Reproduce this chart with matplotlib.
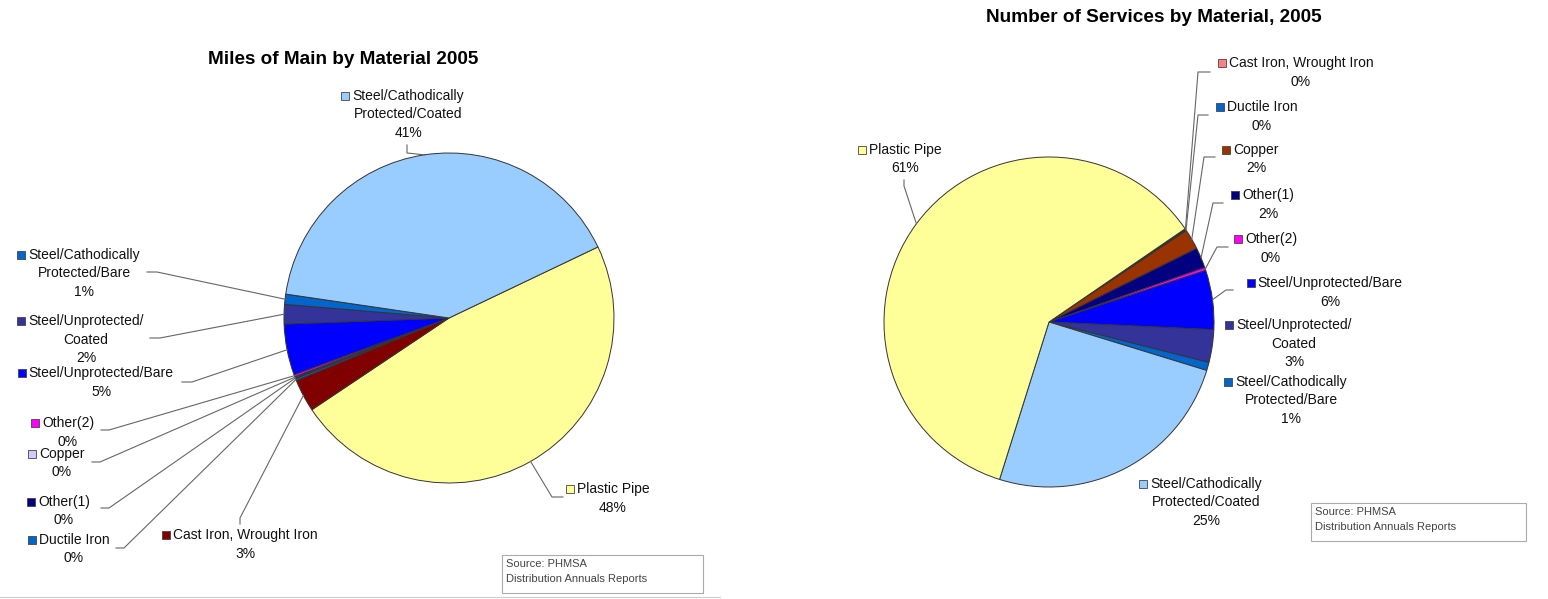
import matplotlib
matplotlib.use("Agg")
import matplotlib.pyplot as plt
from matplotlib.lines import Line2D
from matplotlib.patches import Rectangle
import numpy as np

plt.rcParams['font.family'] = ['Liberation Sans', 'DejaVu Sans']

W, H = 1548, 599

# --- data: Miles of Main by Material 2005 (percent) ---
main_names = ["Plastic Pipe", "Cast Iron, Wrought Iron", "Ductile Iron", "Other(1)",
              "Copper", "Other(2)", "Steel/Unprotected/Bare", "Steel/Unprotected/\nCoated",
              "Steel/Cathodically\nProtected/Bare", "Steel/Cathodically\nProtected/Coated"]
main_pct = [47.7, 3.2, 0.2, 0.1, 0.1, 0.2, 5.0, 1.9, 1.0, 40.6]
main_colors = ["#FFFF99", "#800000", "#0066CC", "#000080", "#CCCCFF", "#FF00FF",
               "#0000FF", "#333399", "#0066CC", "#99CCFF"]

# --- data: Number of Services by Material, 2005 (percent) ---
serv_names = ["Cast Iron, Wrought Iron", "Ductile Iron", "Copper", "Other(1)", "Other(2)",
              "Steel/Unprotected/Bare", "Steel/Unprotected/\nCoated",
              "Steel/Cathodically\nProtected/Bare", "Steel/Cathodically\nProtected/Coated",
              "Plastic Pipe"]
serv_pct = [0.1, 0.1, 2.0, 2.0, 0.3, 5.8, 3.2, 0.8, 25.1, 60.6]
serv_colors = ["#FF8080", "#0066CC", "#993300", "#000080", "#FF00FF",
               "#0000FF", "#333399", "#0066CC", "#99CCFF", "#FFFF99"]

# label layout in pixels: (center x, first line y, leader start, leader knee)
main_layout = [
    (613, 489, (563, 497), (552, 497)),
    (245, 535, (240, 524), (240, 518)),
    (74, 540, (116, 548), (124, 548)),
    (64, 502, (101, 508), (109, 508)),
    (62, 454, (92, 462), (100, 462)),
    (68, 423, (101, 430), (109, 430)),
    (101, 373, (182, 382), (192, 382)),
    (86, 321, (150, 338), (160, 338)),
    (84, 255, (147, 272), (157, 272)),
    (408, 96, (407, 145), (407, 153)),
]
serv_layout = [
    (1301, 63, (1210, 72), (1198, 72)),
    (1262, 107, (1208, 115), (1198, 115)),
    (1256, 150, (1215, 157), (1204, 157)),
    (1268, 195, (1223, 203), (1213, 203)),
    (1271, 239, (1228, 247), (1217, 247)),
    (1330, 283, (1233, 290), (1226, 290)),
    (1294, 325, None, None),
    (1291, 382, None, None),
    (1206, 484, None, None),
    (905, 150, (904, 180), (904, 186)),
]

LINE_H = 18.5


def fx(x):
    return x / W


def fy(y):
    return 1 - y / H


fig = plt.figure(figsize=(W / 100, H / 100), dpi=100)
fig.patch.set_facecolor("white")


def draw_pie(center, radius, pct, colors, names, layout, startangle, title, title_xy, title_size, box):
    cx, cy = center
    ax = fig.add_axes([fx(cx - radius), fy(cy + radius), 2 * radius / W, 2 * radius / H])
    wedges, _ = ax.pie(pct, colors=colors, startangle=startangle, counterclock=False,
                       wedgeprops=dict(edgecolor="#333333", linewidth=0.7))
    ax.set_xlim(-1, 1)
    ax.set_ylim(-1, 1)
    ax.set_aspect("auto")
    ax.axis("off")

    inv = fig.transFigure.inverted()
    for w, name, p, (lx, ly, start, knee) in zip(wedges, names, pct, layout):
        lines = name.split("\n") + [f"{round(p)}%"]
        texts = []
        for i, ln in enumerate(lines):
            t = fig.text(fx(lx), fy(ly + i * LINE_H), ln, ha="center", va="center",
                         fontsize=10, color="#111111")
            texts.append(t)
        # legend key square left of the first line
        bb = texts[0].get_window_extent(renderer=fig.canvas.get_renderer())
        left_px = bb.x0
        sq = 8
        fig.add_artist(Rectangle(((left_px - sq - 3) / W, fy(ly) - sq / 2 / H), sq / W, sq / H,
                                 transform=fig.transFigure, facecolor=w.get_facecolor(),
                                 edgecolor="#444444", linewidth=0.6))
        if start is not None:
            mid = np.deg2rad((w.theta1 + w.theta2) / 2)
            end = inv.transform(ax.transData.transform((np.cos(mid), np.sin(mid))))
            xs = [fx(start[0]), fx(knee[0]), end[0]]
            ys = [fy(start[1]), fy(knee[1]), end[1]]
            fig.add_artist(Line2D(xs, ys, transform=fig.transFigure, color="#666666",
                                  linewidth=0.8))

    fig.text(fx(title_xy[0]), fy(title_xy[1]), title, ha="center", va="center",
             fontsize=title_size, fontweight="bold", color="black")

    bx0, by0, bx1, by1 = box
    fig.add_artist(Rectangle((fx(bx0), fy(by1)), (bx1 - bx0) / W, (by1 - by0) / H,
                             transform=fig.transFigure, facecolor="white",
                             edgecolor="#AAAAAA", linewidth=0.8))
    fig.text(fx(bx0 + 4), fy(by0 + 9), "Source: PHMSA", ha="left", va="center",
             fontsize=8, color="#444444")
    fig.text(fx(bx0 + 4), fy(by0 + 24), "Distribution Annuals Reports", ha="left",
             va="center", fontsize=8, color="#444444")


fig.canvas.draw()
draw_pie((449, 318), 165, main_pct, main_colors, main_names, main_layout, 25.5,
         "Miles of Main by Material 2005", (343, 60), 13.6, (502, 555, 703, 593))
draw_pie((1049, 322), 165, serv_pct, serv_colors, serv_names, serv_layout, 34.4,
         "Number of Services by Material, 2005", (1154, 17), 13.7, (1311, 503, 1526, 541))

# faint frame line under the left chart
fig.add_artist(Line2D([0, fx(720)], [fy(597), fy(597)], transform=fig.transFigure,
                      color="#CCCCCC", linewidth=0.8))

fig.savefig("out.png", dpi=100)
